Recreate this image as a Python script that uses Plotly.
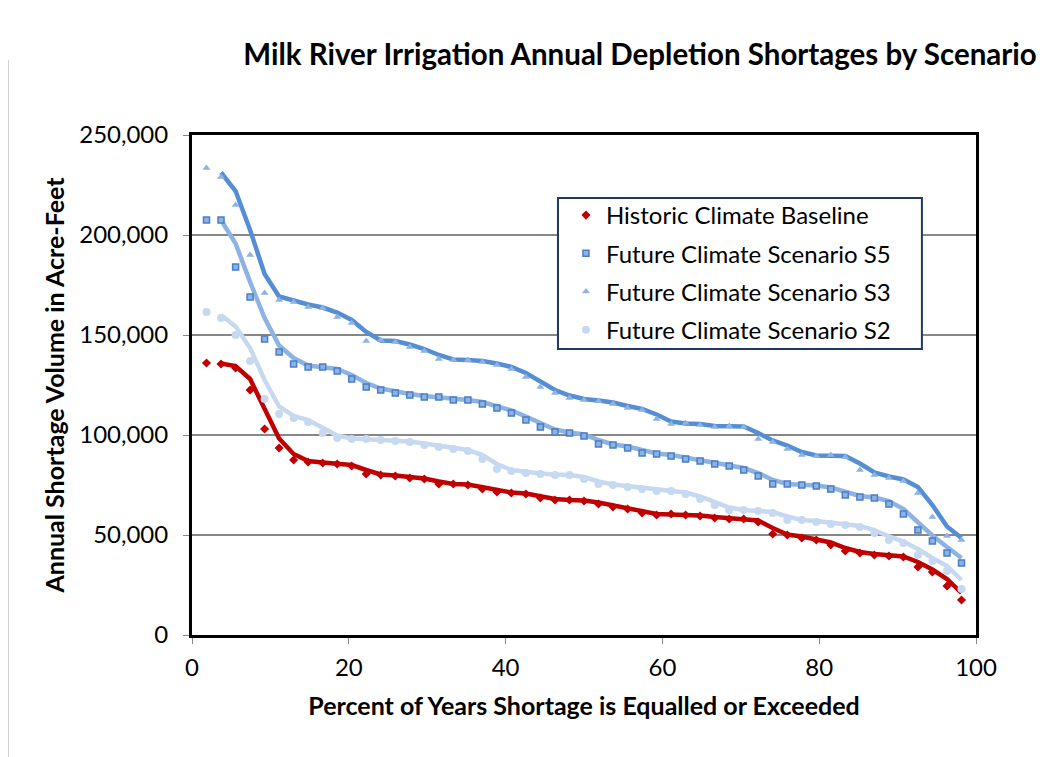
import pandas as pd
import plotly.graph_objects as go

# percent of years shortage is equalled or exceeded (53 years)
pct = [1.85, 3.70, 5.56, 7.41, 9.26, 11.11, 12.96, 14.81, 16.67, 18.52,
       20.37, 22.22, 24.07, 25.93, 27.78, 29.63, 31.48, 33.33, 35.19, 37.04,
       38.89, 40.74, 42.59, 44.44, 46.30, 48.15, 50.00, 51.85, 53.70, 55.56,
       57.41, 59.26, 61.11, 62.96, 64.81, 66.67, 68.52, 70.37, 72.22, 74.07,
       75.93, 77.78, 79.63, 81.48, 83.33, 85.19, 87.04, 88.89, 90.74, 92.59,
       94.44, 96.30, 98.15]

# annual shortage, thousand acre-feet
historic = [136, 135.5, 133.5, 122.5, 103, 93.5, 87.5, 86.5, 86, 85.5,
            84.5, 80.5, 80, 79.5, 78.5, 78, 75.5, 75.5, 75, 73,
            71.5, 71, 70.5, 68.5, 67.5, 67.5, 67, 65.5, 64, 63,
            61, 60, 60.5, 60, 59.5, 58.5, 58, 58, 56.5, 50.5,
            50, 48.5, 47.5, 45, 42, 41, 40, 39.5, 39, 34,
            31.5, 24.5, 17.5]
s5 = [207.5, 207.5, 184, 169, 148, 141.5, 135.5, 134, 134, 132,
      128, 124, 122.5, 121, 120, 119, 119, 117.5, 117.5, 115.5,
      113.5, 111, 107.5, 104, 101.5, 101, 99.5, 95.5, 95, 93.5,
      91, 90.5, 89.5, 88, 87, 85.5, 84.5, 82.5, 79.5, 75.5,
      75.5, 75, 74.5, 73, 70, 69, 68.5, 65.5, 60.5, 52.5,
      47, 41, 36]
s3 = [233.5, 229, 215, 190, 171, 167.5, 166.5, 164, 163.5, 159,
      156, 147, 147.5, 146.5, 144, 142, 138, 137.5, 137.5, 136.5,
      135, 133, 129, 124, 121, 118.5, 117.5, 117, 115.5, 113.5,
      112.5, 108, 105.5, 106, 105, 104, 104.5, 104, 98, 96.5,
      93, 90, 89.5, 90, 89, 82.5, 80, 78.5, 77, 71,
      59, 49.5, 47.5]
s2 = [161.5, 158.5, 150, 137, 118, 110.5, 108.5, 106.5, 101, 98.5,
      98, 98, 97.5, 97, 96.5, 95, 94, 93, 92, 88,
      83, 82, 81, 80.5, 80, 80, 78, 75.5, 75, 74,
      73, 72, 72, 70.5, 68, 65, 62.5, 62.5, 62, 61,
      57.5, 57.5, 56.5, 55.5, 55, 54, 51, 47.5, 46, 40,
      37, 32, 23]

series = [
    ("Historic Climate Baseline", historic, "diamond", 7, "#C00000", "#C00000", "#C00000"),
    ("Future Climate Scenario S5", s5, "square", 6, "#8DB3E2", "#4A7EC8", "#8DB3E2"),
    ("Future Climate Scenario S3", s3, "triangle-up", 7, "#8DB3E2", "#8DB3E2", "#558ED5"),
    ("Future Climate Scenario S2", s2, "circle", 8, "#C6D9F1", "#C6D9F1", "#C6D9F1"),
]

fig = go.Figure()

# 2-period moving average trendlines (drawn first, under the markers)
for name, vals, sym, size, fill, edge, lc in series:
    y = pd.Series(vals) * 1000
    ma = y.rolling(2).mean()
    fig.add_trace(go.Scatter(x=pct, y=ma, mode="lines", showlegend=False,
                             line=dict(color=lc, width=4.5), hoverinfo="skip"))

for k, (name, vals, sym, size, fill, edge, lc) in enumerate(series):
    fig.add_trace(go.Scatter(
        x=pct, y=[v * 1000 for v in vals], mode="markers", name=name,
        legendgroup=f"g{k}",
        marker=dict(symbol=sym, size=size, color=fill,
                    line=dict(color=edge, width=1.5 if sym == "square" else 0))
    ))

font = "Lato, 'Open Sans', sans-serif"

# page body adds an 8px offset, so margins are shifted by 8
fig.update_layout(
    width=1054, height=757,
    margin=dict(l=184, r=86, t=127, b=130),
    paper_bgcolor="white", plot_bgcolor="white",
    font=dict(family=font, size=24, color="black"),
    title=dict(text="<b>Milk River Irrigation Annual Depletion Shortages by Scenario</b>",
               font=dict(size=29.5, family=font), xref="paper", x=(632 - 184) / 784,
               xanchor="center", yref="container", y=1 - 47 / 757, yanchor="middle"),
    showlegend=True,
    legend=dict(x=0.477, y=0.884, xanchor="left", yanchor="top",
                bgcolor="rgba(0,0,0,0)", borderwidth=0,
                tracegroupgap=4, font=dict(size=24, family=font)),
    xaxis=dict(range=[0, 100], dtick=20, showgrid=False, zeroline=False,
               showline=True, linecolor="black", linewidth=3, mirror=True,
               ticks="outside", ticklen=6, tickcolor="#868686", ticklabelstandoff=3,
               title=dict(text="<b>Percent of Years Shortage is Equalled or Exceeded</b>",
                          font=dict(size=25), standoff=18)),
    yaxis=dict(range=[0, 250000], dtick=50000, tickformat=",",
               showgrid=True, gridcolor="#878787", gridwidth=1.5, zeroline=False,
               showline=True, linecolor="black", linewidth=3, mirror=True,
               ticks="outside", ticklen=6, tickcolor="#868686", ticklabelstandoff=10,
               title=dict(text="<b>Annual Shortage Volume in Acre-Feet</b>",
                          font=dict(size=25), standoff=8)),
)

# legend frame
fig.add_shape(type="rect", xref="paper", yref="paper", layer="above",
              x0=0.4668, x1=0.931, y0=0.572, y1=0.874,
              fillcolor="white", line=dict(color="#1F3864", width=2))

# thin outer chart border (left/right edges visible)
for px in (0, 1042):
    fig.add_shape(type="line", xref="paper", yref="paper",
                  x0=(px - 184) / 784, x1=(px - 184) / 784, y0=-0.3, y1=1.15,
                  line=dict(color="#A6A6A6", width=1))

fig.write_html("out.html")
